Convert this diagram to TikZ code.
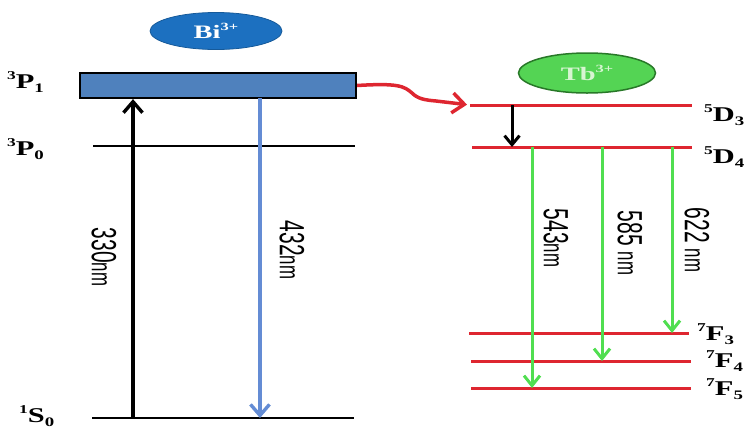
\documentclass[tikz,border=0pt]{standalone}
\usepackage{fontspec}
\setmainfont{Liberation Serif}
\newfontfamily\numfont{Liberation Sans}
\usetikzlibrary{arrows.meta,shapes.geometric}
\definecolor{lvred}{RGB}{222,38,48}
\definecolor{boxblue}{RGB}{79,129,189}
\definecolor{emblue}{RGB}{100,140,212}
\definecolor{bifill}{RGB}{28,112,192}
\definecolor{tbfill}{RGB}{84,212,84}
\definecolor{tbedge}{RGB}{40,120,40}
\definecolor{tbtext}{RGB}{215,245,210}
\definecolor{emgreen}{RGB}{80,222,80}
\newcommand{\lvlab}[3]{\scalebox{1.45}[1]{\fontsize{21}{21}\selectfont\bfseries\raisebox{0.4em}{\fontsize{12}{12}\selectfont #1}#2\raisebox{-0.22em}{\fontsize{13}{13}\selectfont #3}}}
\newcommand{\wl}[2]{\scalebox{0.6}[1]{#1{\fontsize{28}{28}\selectfont #2}}}
\tikzset{
  level/.style={line width=2.6pt},
  redlevel/.style={line width=3pt, lvred},
  tipbarb/.style={-{Straight Barb[length=11pt,width=19pt]}},
  uparrow/.style={tipbarb, line width=3.4pt, black},
  bluearrow/.style={tipbarb, line width=3.4pt, emblue},
  greenarrow/.style={-{Straight Barb[length=10pt,width=16pt]}, line width=3pt, emgreen},
  smallarrow/.style={-{Straight Barb[length=9pt,width=15pt]}, line width=3pt, black},
  lab/.style={anchor=base west, inner sep=0},
  wave/.style={rotate=-90, inner sep=0, font=\numfont\fontsize{35}{35}\selectfont},
  ion/.style={ellipse, inner sep=0, minimum width=#1}
}
\begin{document}
\begin{tikzpicture}[x=1pt,y=-1pt]
\useasboundingbox (0,0) rectangle (744,429);
% Bi3+ side
\node[ion=132pt, minimum height=37pt, fill=bifill, draw=bifill!80!black, line width=0.8pt,
      text=white] (bi) at (216,31) {\scalebox{1.5}[1]{\fontsize{19}{19}\selectfont\bfseries Bi\raisebox{0.42em}{\fontsize{11}{11}\selectfont 3+}}};
\node[draw=black, fill=boxblue, line width=2.2pt, minimum width=276pt, minimum height=25pt,
      inner sep=0] (p1) at (218,85.5) {};
\coordinate (p0l) at (93,146);
\coordinate (p0r) at (355,146);
\coordinate (s0l) at (92,418);
\coordinate (s0r) at (354,418);
\draw[level] (p0l) -- (p0r);
\draw[level] (s0l) -- (s0r);
\coordinate (exc) at (133,418);
\coordinate (emi) at (260,98);
\draw[uparrow] (exc) -- (exc |- p1.south);
\draw[bluearrow] (emi) -- (emi |- s0l);
\node[lab] (lp1) at (7,88) {\lvlab{3}{P}{1}};
\node[lab] (lp0) at (7,155) {\lvlab{3}{P}{0}};
\node[lab] (ls0) at (19,422) {\lvlab{1}{S}{0}};
\node[wave] (w330) at (104,257) {\wl{330}{nm}};
\node[wave] (w432) at (292,250) {\wl{432}{nm}};
% Tb3+ side
\node[ion=137pt, minimum height=40pt, fill=tbfill, draw=tbedge, line width=1.5pt,
      text=tbtext] (tb) at (587,73) {\scalebox{1.5}[1]{\fontsize{19}{19}\selectfont\bfseries Tb\raisebox{0.42em}{\fontsize{11}{11}\selectfont 3+}}};
\coordinate (d3l) at (470,105);
\coordinate (d3r) at (692,105);
\coordinate (d4l) at (472,147);
\coordinate (d4r) at (692,147);
\coordinate (f3l) at (469,333);
\coordinate (f3r) at (689,333);
\coordinate (f4l) at (471,361);
\coordinate (f4r) at (691,361);
\coordinate (f5l) at (471,388);
\coordinate (f5r) at (691,388);
\draw[redlevel] (d3l) -- (d3r);
\draw[redlevel] (d4l) -- (d4r);
\draw[redlevel] (f3l) -- (f3r);
\draw[redlevel] (f4l) -- (f4r);
\draw[redlevel] (f5l) -- (f5r);
% energy transfer
\draw[lvred, line width=3.5pt, -{Straight Barb[length=12pt,width=20pt]}, shorten >=3pt]
  (p1.east) .. controls (398,83) and (404,86) .. (412,93)
  .. controls (418,99) and (425,100) .. (436,101) -- (d3l);
% relaxation
\coordinate (rel) at (512,105);
\draw[smallarrow] (rel) -- (rel |- d4l);
% emissions
\coordinate (g1) at (532,147);
\coordinate (g2) at (602,147);
\coordinate (g3) at (672,147);
\draw[greenarrow] (g1) -- (g1 |- f5l);
\draw[greenarrow] (g2) -- (g2 |- f4l);
\draw[greenarrow] (g3) -- (g3 |- f3l);
\node[wave] (w543) at (556,238) {\wl{543}{nm}};
\node[wave] (w585) at (630,243) {\wl{585 }{nm}};
\node[wave] (w622) at (697,240) {\wl{622 }{nm}};
\node[lab] (ld3) at (704,121) {\lvlab{5}{D}{3}};
\node[lab] (ld4) at (704,163) {\lvlab{5}{D}{4}};
\node[lab] (lf3) at (697,340) {\lvlab{7}{F}{3}};
\node[lab] (lf4) at (706,367) {\lvlab{7}{F}{4}};
\node[lab] (lf5) at (706,395) {\lvlab{7}{F}{5}};
\end{tikzpicture}
\end{document}
